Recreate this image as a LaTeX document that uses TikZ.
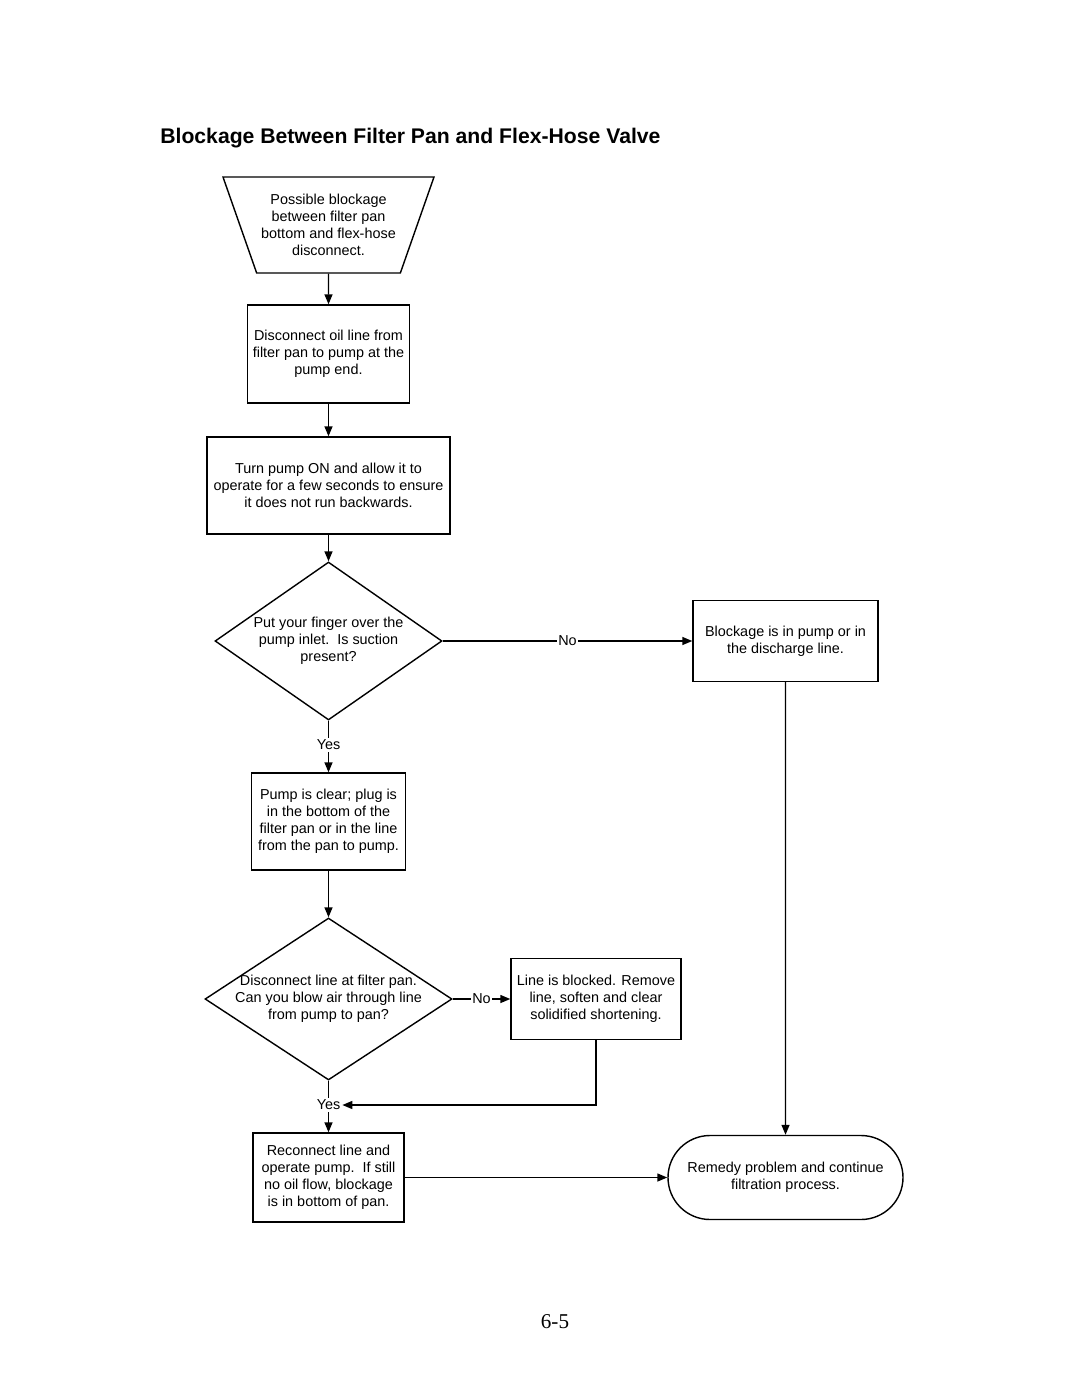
\documentclass[tikz,border=0pt]{standalone}
\usepackage{fontspec}
\setmainfont{Liberation Sans}
\newfontfamily\pagefont{Liberation Serif}
\usetikzlibrary{shapes,arrows.meta,positioning}
\tikzset{basic/.style={draw,line width=0.8pt,align=center,inner sep=0pt,font=\fontsize{8.2}{9.7}\selectfont}}
\tikzset{process/.style={basic,rectangle}}
\tikzset{start/.style={basic,trapezium,trapezium left angle=61.4,trapezium right angle=61.4,shape border rotate=180,trapezium stretches body,minimum width=4.22cm,minimum height=1.92cm}}
\tikzset{decision/.style={basic,diamond,aspect=1.5,inner sep=-0.25cm}}
\tikzset{finish/.style={basic,rounded rectangle,minimum width=4.7cm,minimum height=1.68cm}}
\tikzset{arrow/.style={draw,line width=0.8pt}}
\tikzset{answer/.style={rectangle,inner sep=1pt,font=\fontsize{8.2}{9.7}\selectfont}}

\begin{document}
\begin{tikzpicture}[>={Triangle[length=2mm,width=1.6mm]}]
    \useasboundingbox (0,0) rectangle (21.6,-27.94);
    \node[anchor=west,inner sep=0pt,font=\bfseries\fontsize{12.05}{14}\selectfont] (title) at (3.2,-2.76) {Blockage Between Filter Pan and Flex-Hose Valve};

    \node[start] (s1) at (6.57,-4.5) {Possible blockage\\between filter pan\\bottom and flex-hose\\disconnect.};
    \node[process,below of=s1,node distance=2.58cm,minimum width=3.24cm,minimum height=1.96cm] (b1) {Disconnect oil line from\\filter pan to pump at the\\pump end.};
    \node[process,below of=b1,node distance=2.63cm,minimum width=4.86cm,minimum height=1.94cm] (b2) {Turn pump ON and allow it to\\operate for a few seconds to ensure\\it does not run backwards.};
    \node[decision,below of=b2,node distance=3.11cm,minimum width=4.54cm,minimum height=3.16cm] (d1) {Put your finger over the\\pump inlet.\ \ Is suction\\present?};
    \node[process,right of=d1,node distance=9.14cm,minimum width=3.7cm,minimum height=1.62cm] (b3) {Blockage is in pump or in\\the discharge line.};

    \node[answer,below of=d1,node distance=2.08cm] (y1) {Yes};
    \node[process,below of=d1,node distance=3.61cm,minimum width=3.08cm,minimum height=1.94cm] (b4) {Pump is clear; plug is\\in the bottom of the\\filter pan or in the line\\from the pan to pump.};
    \node[decision,below of=b4,node distance=3.55cm,minimum width=4.94cm,minimum height=3.24cm] (d2) {Disconnect line at filter pan.\\Can you blow air through line\\from pump to pan?};
    \node[process,right of=d2,node distance=5.35cm,minimum width=3.4cm,minimum height=1.62cm] (b5) {Line is blocked. Remove\\line, soften and clear\\solidified shortening.};

    \node[answer,below of=d2,node distance=2.12cm] (y2) {Yes};
    \node[process,below of=d2,node distance=3.57cm,minimum width=3.02cm,minimum height=1.78cm] (b6) {Reconnect line and\\operate pump.\ \ If still\\no oil flow, blockage\\is in bottom of pan.};
    \node[finish,right of=b6,node distance=9.14cm] (e1) {Remedy problem and continue\\filtration process.};

    \node[font=\pagefont\fontsize{12}{14}\selectfont] (page) at (11.1,-26.44) {6-5};

        \path[arrow,->] (s1) -- (b1);
        \path[arrow,->] (b1) -- (b2);
        \path[arrow,->] (b2) -- (d1);
        \path[arrow,->] (d1) -- node[answer,fill=white] {No} (b3);
        \path[arrow] (d1) -- (y1);
        \path[arrow,->] (y1) -- (b4);
        \path[arrow,->] (b4) -- (d2);
        \path[arrow,->] (d2) -- node[answer,fill=white] {No} (b5);
        \path[arrow] (d2) -- (y2);
        \path[arrow,->] (y2) -- (b6);
        \path[arrow,->] (b5) |- (y2);
        \path[arrow,->] (b3) -- (e1);
        \path[arrow,->] (b6) -- (e1);
  \end{tikzpicture}
\end{document}
